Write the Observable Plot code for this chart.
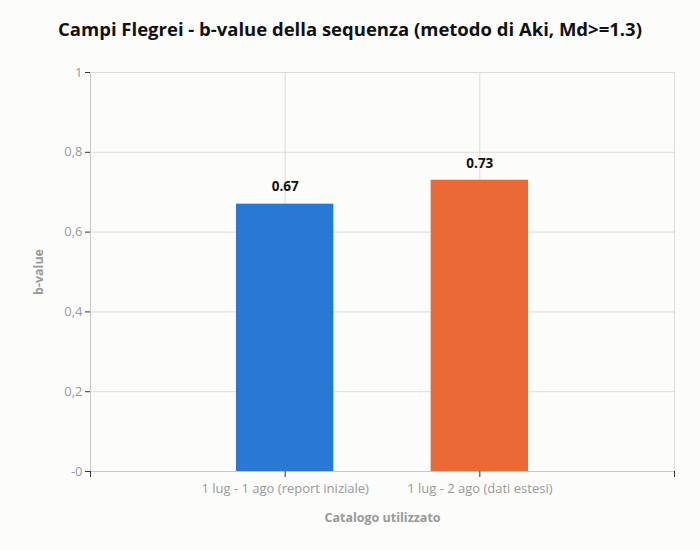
<!DOCTYPE html>
<html>
<head>
<meta charset="utf-8">
<script src="https://cdn.jsdelivr.net/npm/d3@7"></script>
<script src="https://cdn.jsdelivr.net/npm/@observablehq/plot@0.6"></script>
<style>
  html, body { margin: 0; padding: 0; background: #fcfcfa; }
  #title { width: 700px; height: 58px; box-sizing: border-box; padding-top: 17px; text-align: center;
    font-family: "Open Sans", sans-serif; font-weight: 700; font-size: 18.5px; color: #111; line-height: 24px; }
  svg [aria-label="y-axis label"], svg [aria-label="x-axis label"] { font-weight: 700; font-size: 12.5px; }
</style>
</head>
<body>
<div id="title">Campi Flegrei - b-value della sequenza (metodo di Aki, Md&gt;=1.3)</div>
<div id="chart"></div>
<script>
const categories = ["1 lug - 1 ago (report iniziale)", "1 lug - 2 ago (dati estesi)"];
const bValues = [0.67, 0.73];
const barColors = ["#2878d6", "#ea6935"];
const yTicks = [0, 0.2, 0.4, 0.6, 0.8, 1];

const data = categories.map((c, i) => ({cat: c, pos: i + 1, value: bValues[i], color: barColors[i]}));

const chart = Plot.plot({
  width: 700,
  height: 492,
  marginTop: 14,
  marginBottom: 79,
  marginLeft: 90,
  marginRight: 26,
  style: {background: "#fcfcfa", fontFamily: "'Open Sans', sans-serif", fontSize: "13px", color: "#999"},
  x: {domain: [0, 3]},
  y: {domain: [0, 1]},
  marks: [
    Plot.gridY(yTicks, {stroke: "#dcdcdc", strokeOpacity: 1}),
    Plot.gridX([1, 2, 3], {stroke: "#dcdcdc", strokeOpacity: 1}),
    Plot.ruleX([0], {stroke: "#c8c8c8"}),
    Plot.rectY(data, {x1: d => d.pos - 0.25, x2: d => d.pos + 0.25, y: "value", fill: "color"}),
    Plot.ruleY([0], {stroke: "#c8c8c8"}),
    Plot.text(data, {x: "pos", y: "value", text: d => d.value.toFixed(2), dy: -17,
      fill: "#111", fontWeight: "bold", fontSize: 13.5}),
    Plot.axisY({ticks: yTicks, tickFormat: d => d === 0 ? "-0" : String(d).replace(".", ","),
      tickSize: 5, tickPadding: 3, stroke: "#333", fill: "#999",
      label: "b-value", labelAnchor: "center", labelArrow: "none", labelOffset: 56}),
    Plot.axisX({ticks: [0, 1, 2, 3], tickFormat: d => d === 1 ? categories[0] : d === 2 ? categories[1] : "",
      tickSize: 6, tickPadding: 6, stroke: "#333", fill: "#999",
      label: "Catalogo utilizzato", labelAnchor: "center", labelArrow: "none", labelOffset: 50})
  ]
});
document.getElementById("chart").appendChild(chart);
</script>
</body>
</html>
